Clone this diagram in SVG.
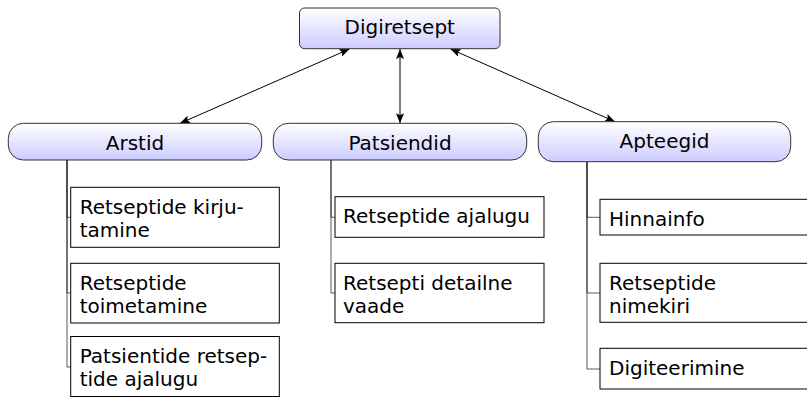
<svg xmlns="http://www.w3.org/2000/svg" width="807" height="398" viewBox="0 0 807 398">
<defs>
<linearGradient id="g" x1="0" y1="0" x2="0" y2="1">
<stop offset="0" stop-color="#ffffff"/>
<stop offset="1" stop-color="#ccccff"/>
</linearGradient>
<marker id="ah" viewBox="0 0 10 8" refX="10" refY="4" markerWidth="10" markerHeight="8" markerUnits="userSpaceOnUse" orient="auto-start-reverse">
<path d="M0,0 L10,4 L0,8 L2,4 Z" fill="#000"/>
</marker>
<style>
text{font-family:"DejaVu Sans","Liberation Sans",sans-serif;font-size:20px;fill:#000}
.hd{fill:url(#g);stroke:#333;stroke-width:1}
.ch{fill:#fff;stroke:#000;stroke-width:1}
.mid{text-anchor:middle}
.arr{fill:none;stroke:#000;stroke-width:1;marker-start:url(#ah);marker-end:url(#ah)}
.tr{fill:none;stroke:#000;stroke-width:1;stroke-opacity:0.65}
</style>
</defs>
<rect width="807" height="398" fill="#fff"/>
<g id="connectors">
<path class="arr" d="M349.5,49 L180,123.3"/>
<path class="arr" d="M400,49 L400,123.3"/>
<path class="arr" d="M450.5,49 L615,121.7"/>
<path class="tr" d="M67,160 V217.3 H70.7"/>
<path class="tr" d="M67,160 V293 H70.7"/>
<path class="tr" d="M67,160 V367 H70.7"/>
<path class="tr" d="M331,160 V217.3 H335"/>
<path class="tr" d="M331,160 V293 H335"/>
<path class="tr" d="M587,161.7 V217.3 H600"/>
<path class="tr" d="M587,161.7 V293 H600"/>
<path class="tr" d="M587,161.7 V369 H600"/>
</g>
<g id="digiretsept">
<rect class="hd" x="299.5" y="8" width="200.5" height="40.7" rx="5"/>
<text class="mid" x="399.75" y="34">Digiretsept</text>
</g>
<g id="arstid">
<rect class="hd" x="8.3" y="123.3" width="253.4" height="36.7" rx="15"/>
<text class="mid" x="135" y="149.5">Arstid</text>
</g>
<g id="patsiendid">
<rect class="hd" x="273.3" y="123.3" width="253.4" height="36.7" rx="15"/>
<text class="mid" x="400" y="150">Patsiendid</text>
</g>
<g id="apteegid">
<rect class="hd" x="538.3" y="121.7" width="252.4" height="40" rx="15"/>
<text class="mid" x="664.5" y="148.2">Apteegid</text>
</g>
<g id="a1">
<rect class="ch" x="70.7" y="187.3" width="208.6" height="60"/>
<text x="79.7" y="214"><tspan x="79.7">Retseptide kirju-</tspan><tspan x="79.7" dy="23">tamine</tspan></text>
</g>
<g id="a2">
<rect class="ch" x="70.7" y="263.3" width="208.6" height="59.7"/>
<text x="79.7" y="290"><tspan x="79.7">Retseptide</tspan><tspan x="79.7" dy="23">toimetamine</tspan></text>
</g>
<g id="a3">
<rect class="ch" x="70.7" y="336.5" width="208.6" height="60"/>
<text x="79.7" y="363.2"><tspan x="79.7">Patsientide retsep-</tspan><tspan x="79.7" dy="23">tide ajalugu</tspan></text>
</g>
<g id="p1">
<rect class="ch" x="335" y="196.7" width="209" height="40.6"/>
<text x="343" y="223.3">Retseptide ajalugu</text>
</g>
<g id="p2">
<rect class="ch" x="335" y="263.3" width="209" height="59.4"/>
<text x="343" y="290"><tspan x="343">Retsepti detailne</tspan><tspan x="343" dy="23">vaade</tspan></text>
</g>
<g id="t1">
<rect class="ch" x="600" y="199.3" width="209" height="35.7"/>
<text x="609" y="225.5">Hinnainfo</text>
</g>
<g id="t2">
<rect class="ch" x="600" y="263.3" width="209" height="59"/>
<text x="609" y="290"><tspan x="609">Retseptide</tspan><tspan x="609" dy="23">nimekiri</tspan></text>
</g>
<g id="t3">
<rect class="ch" x="600" y="348.3" width="209" height="40.7"/>
<text x="609" y="375">Digiteerimine</text>
</g>
</svg>
